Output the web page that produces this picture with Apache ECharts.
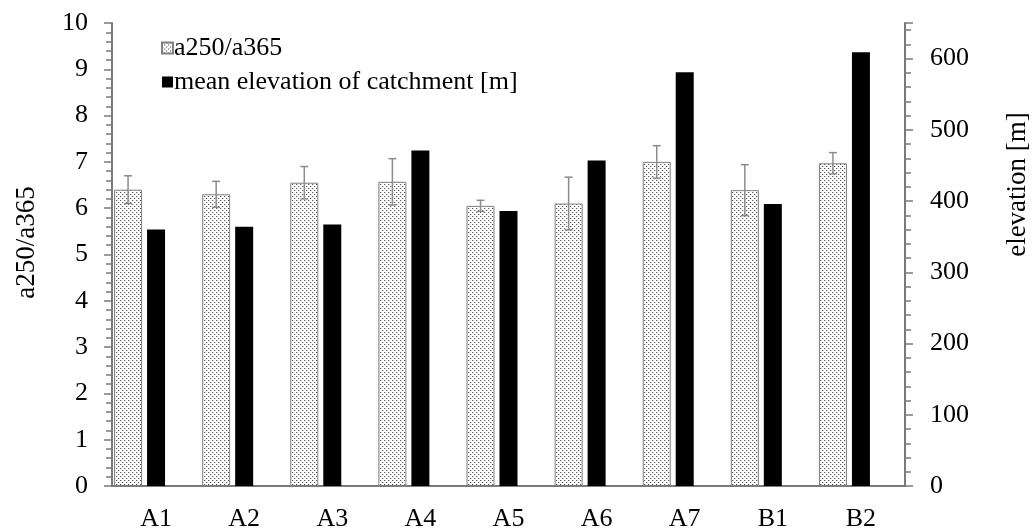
<!DOCTYPE html>
<html>
<head>
<meta charset="utf-8">
<script src="https://cdn.jsdelivr.net/npm/echarts@6/dist/echarts.min.js"></script>
<style>html,body{margin:0;padding:0;background:#fff}#c{width:1033px;height:530px}</style>
</head>
<body>
<div id="c"></div>
<script>
const categories = ['A1','A2','A3','A4','A5','A6','A7','B1','B2'];
const ratioValues = [6.40, 6.30, 6.55, 6.57, 6.05, 6.10, 7.00, 6.39, 6.97];
const ratioErrors = [0.30, 0.28, 0.35, 0.50, 0.12, 0.57, 0.35, 0.55, 0.23];
const elevationValues = [360, 364, 367, 471, 386, 457, 581, 396, 609];
const leftTicks = {min: 0, max: 10, interval: 1};
const rightTicks = {min: 0, max: 650, interval: 100};
const ratioName = 'a250/a365';
const elevationName = 'mean elevation of catchment [m]';

const FONT = '"Liberation Serif", "DejaVu Serif", serif';
const FS = 26;
const AX = '#7a7a7a';
const DOT_W = 28, BLACK_W = 18;

function makePattern(){
  const c = document.createElement('canvas');
  c.width = 4; c.height = 4;
  const g = c.getContext('2d');
  g.fillStyle = '#ffffff'; g.fillRect(0,0,4,4);
  g.fillStyle = '#555555';
  g.fillRect(0,0,1,1); g.fillRect(2,2,1,1);
  g.fillStyle = '#d8d8d8';
  g.fillRect(1,0,1,1); g.fillRect(3,2,1,1);
  return c;
}
const pattern = {image: makePattern(), repeat: 'repeat'};

const chart = echarts.init(document.getElementById('c'), null, {renderer: 'canvas'});
chart.setOption({
  animation: false,
  textStyle: {fontFamily: FONT, color: '#000'},
  grid: {left: 112, right: 128, top: 23, bottom: 44, containLabel: false, outerBoundsMode: 'none'},
  legend: {
    data: [ratioName, elevationName],
    orient: 'vertical', left: 156, top: 30, itemGap: 8,
    itemWidth: 11, itemHeight: 11, icon: 'rect',
    textStyle: {fontFamily: FONT, fontSize: FS, color: '#000', padding: [0,0,0,-4]}
  },
  xAxis: [
    {type: 'category', data: categories, position: 'bottom',
     axisLine: {show: true, lineStyle: {color: AX, width: 2}},
     axisTick: {show: false},
     axisLabel: {fontFamily: FONT, fontSize: FS, color: '#000', margin: 20}},
    {type: 'category', data: categories, position: 'top',
     axisLine: {show: true, lineStyle: {color: AX, width: 2}},
     axisTick: {show: false}, axisLabel: {show: false}}
  ],
  yAxis: [
    {type: 'value', min: leftTicks.min, max: leftTicks.max, interval: leftTicks.interval,
     position: 'left',
     name: ratioName, nameLocation: 'middle', nameRotate: 90, nameGap: 72,
     nameTextStyle: {fontFamily: FONT, fontSize: 27, color: '#000', padding: [0,0,0,24]},
     axisLine: {show: true, lineStyle: {color: AX, width: 2}},
     axisTick: {show: true, inside: false, length: 8, lineStyle: {color: AX, width: 1.5}},
     minorTick: {show: true, splitNumber: 5, length: 6, lineStyle: {color: AX, width: 1.5}},
     splitLine: {show: false},
     axisLabel: {fontFamily: FONT, fontSize: FS, color: '#000', margin: 24}},
    {type: 'value', min: rightTicks.min, max: rightTicks.max, interval: rightTicks.interval,
     position: 'right',
     name: 'elevation [m]', nameLocation: 'middle', nameRotate: 90, nameGap: 99,
     nameTextStyle: {fontFamily: FONT, fontSize: 27, color: '#000', padding: [0,0,0,140]},
     axisLine: {show: true, lineStyle: {color: AX, width: 2}},
     axisTick: {show: true, inside: false, length: 8, lineStyle: {color: AX, width: 1.5}},
     minorTick: {show: true, splitNumber: 5, length: 6, lineStyle: {color: AX, width: 1.5}},
     splitLine: {show: false},
     axisLabel: {fontFamily: FONT, fontSize: FS, color: '#000', margin: 25, showMaxLabel: false}}
  ],
  series: [
    {name: ratioName, type: 'bar', xAxisIndex: 1, yAxisIndex: 0,
     data: ratioValues, barWidth: DOT_W, barGap: '100%',
     itemStyle: {color: pattern, borderColor: '#808080', borderWidth: 1}},
    {name: '_spacer', type: 'bar', xAxisIndex: 1, yAxisIndex: 0,
     data: ratioValues.map(() => null), barWidth: DOT_W, barGap: '100%'},
    {name: elevationName, type: 'bar', xAxisIndex: 0, yAxisIndex: 1,
     data: elevationValues, barWidth: BLACK_W,
     itemStyle: {color: '#000'}},
    {name: 'error', type: 'custom', xAxisIndex: 1, yAxisIndex: 0, z: 5,
     data: ratioValues.map((v, i) => [i, v, ratioErrors[i]]),
     renderItem: function(params, api){
       const i = api.value(0), v = api.value(1), e = api.value(2);
       const hi = api.coord([i, v + e]);
       const lo = api.coord([i, v - e]);
       const x = hi[0] - DOT_W;
       const cap = 4;
       const st = {stroke: '#8c8c8c', lineWidth: 1.5};
       return {type: 'group', children: [
         {type: 'line', shape: {x1: x, y1: hi[1], x2: x, y2: lo[1]}, style: st},
         {type: 'line', shape: {x1: x - cap, y1: hi[1], x2: x + cap, y2: hi[1]}, style: st},
         {type: 'line', shape: {x1: x - cap, y1: lo[1], x2: x + cap, y2: lo[1]}, style: st}
       ]};
     }}
  ]
});
</script>
</body>
</html>
